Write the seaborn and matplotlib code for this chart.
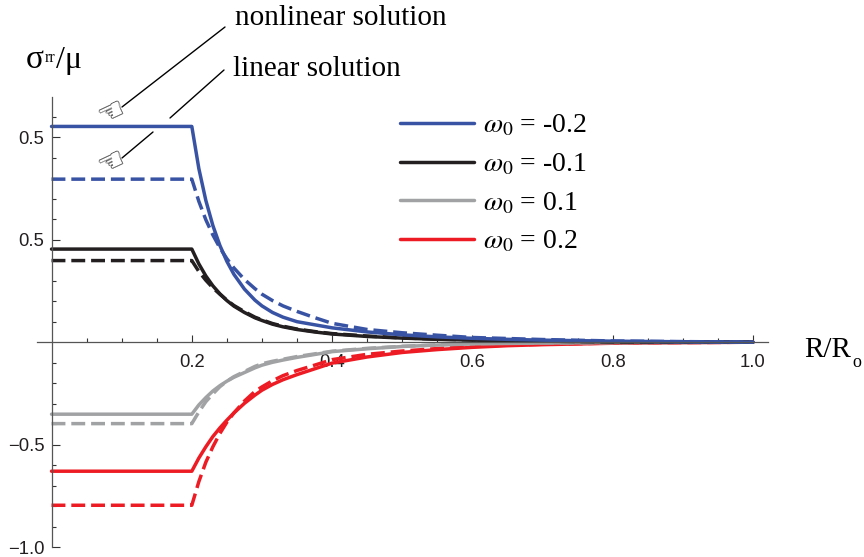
import pandas as pd
import matplotlib
matplotlib.use("Agg")
import matplotlib.pyplot as plt
from matplotlib.lines import Line2D
from matplotlib.ticker import FixedLocator, FixedFormatter
import seaborn as sns

W, H = 864, 557

# values
r = [0, 0.2, 0.21, 0.22, 0.23, 0.24, 0.25, 0.26, 0.275, 0.29, 0.3, 0.315, 0.33, 0.35, 0.375, 0.4,
     0.45, 0.5, 0.55, 0.6, 0.65, 0.7, 0.8, 0.9, 1.0]

blue_nl = [1.052, 1.052, 0.847, 0.691, 0.569, 0.472, 0.394, 0.331, 0.259, 0.205, 0.177, 0.145, 0.122, 0.10, 0.085, 0.07,
           0.05, 0.036, 0.026, 0.019, 0.014, 0.01, 0.005, 0.002, 0.0]
blue_lin = [0.795, 0.795, 0.687, 0.597, 0.523, 0.46, 0.407, 0.362, 0.306, 0.261, 0.234, 0.203, 0.177, 0.15, 0.12, 0.092,
            0.062, 0.046, 0.034, 0.023, 0.018, 0.013, 0.006, 0.003, 0.0]
black_nl = [0.454, 0.454, 0.382, 0.323, 0.275, 0.236, 0.203, 0.176, 0.145, 0.119, 0.106, 0.088, 0.075, 0.062, 0.05, 0.04,
            0.028, 0.02, 0.014, 0.01, 0.007, 0.005, 0.002, 0.001, 0.0]
black_lin = [0.398, 0.398, 0.345, 0.302, 0.265, 0.234, 0.205, 0.179, 0.149, 0.122, 0.109, 0.091, 0.078, 0.064, 0.052, 0.042,
             0.03, 0.021, 0.015, 0.011, 0.008, 0.005, 0.002, 0.001, 0.0]
grey_nl = [-0.351, -0.351, -0.306, -0.27, -0.238, -0.212, -0.19, -0.171, -0.148, -0.125, -0.112, -0.098, -0.087, -0.074, -0.06, -0.046,
           -0.032, -0.021, -0.014, -0.008, -0.006, -0.004, -0.002, -0.001, 0.0]
grey_lin = [-0.397, -0.397, -0.34, -0.29, -0.252, -0.217, -0.19, -0.168, -0.143, -0.118, -0.105, -0.093, -0.083, -0.07, -0.057, -0.044,
            -0.03, -0.02, -0.013, -0.007, -0.005, -0.003, -0.002, -0.001, 0.0]
red_nl = [-0.629, -0.629, -0.565, -0.51, -0.46, -0.418, -0.38, -0.345, -0.298, -0.258, -0.234, -0.206, -0.183, -0.158, -0.13, -0.102,
          -0.072, -0.05, -0.036, -0.025, -0.017, -0.012, -0.005, -0.002, 0.0]
red_lin = [-0.795, -0.795, -0.68, -0.585, -0.51, -0.445, -0.39, -0.345, -0.287, -0.24, -0.218, -0.188, -0.163, -0.138, -0.112, -0.085,
           -0.059, -0.043, -0.031, -0.021, -0.014, -0.01, -0.004, -0.002, 0.0]

omegas = ["-0.2", "-0.1", "0.1", "0.2"]
colors = ["#3953a4", "#231f20", "#a0a2a4", "#ed1c24"]
series = {"-0.2": (blue_nl, blue_lin), "-0.1": (black_nl, black_lin),
          "0.1": (grey_nl, grey_lin), "0.2": (red_nl, red_lin)}

y_major = [-1.0, -0.5, 0.5, 1.0]
y_labels = ["\u22121.0", "\u22120.5", "0.5", "0.5"]
y_minor = [-0.9, -0.8, -0.7, -0.6, -0.4, -0.3, -0.2, -0.1, 0.1, 0.2, 0.3, 0.4, 0.6, 0.7, 0.8, 0.9, 1.1]
x_major = [0.2, 0.4, 0.6, 0.8, 1.0]
x_labels = ["0.2", "0.4", "0.6", "0.8", "1.0"]
x_minor = [0.05, 0.1, 0.15, 0.25, 0.3, 0.35, 0.45, 0.5, 0.55, 0.65, 0.7, 0.75, 0.85, 0.9, 0.95]

rows = []
for om in omegas:
    nl, lin = series[om]
    rows += [{"r": a, "s": b, "omega": om, "kind": "nonlinear"} for a, b in zip(r, nl)]
    rows += [{"r": a, "s": b, "omega": om, "kind": "linear"} for a, b in zip(r, lin)]
df = pd.DataFrame(rows)

sns.set_style("white")
plt.rcParams["font.family"] = ["Liberation Serif", "DejaVu Sans"]
plt.rcParams["mathtext.fontset"] = "stix"
plt.rcParams["text.color"] = "black"

fig = plt.figure(figsize=(W / 100, H / 100), dpi=100)
ax = fig.add_axes([37 / W, 1 - 547.3 / H, (768 - 37) / W, (547.3 - 96.7) / H])

palette = dict(zip(omegas, colors))
sns.lineplot(data=df, x="r", y="s", hue="omega", style="kind", hue_order=omegas[::-1],
             palette=palette, dashes={"nonlinear": "", "linear": (4, 1.7)},
             estimator=None, sort=False, linewidth=2.5, legend=False, ax=ax)

ax.set_xlim(-0.0207, 1.0214)
ax.set_ylim(-1.0, 1.197)
ax.set_xlabel("")
ax.set_ylabel("")
ax.patch.set_visible(False)

for side in ["top", "right"]:
    ax.spines[side].set_visible(False)
ax.spines["left"].set_position(("data", 0))
ax.spines["bottom"].set_position(("data", 0))
for side in ["left", "bottom"]:
    ax.spines[side].set_linewidth(0.9)
    ax.spines[side].set_color("#555555")

ax.xaxis.set_major_locator(FixedLocator(x_major))
ax.xaxis.set_major_formatter(FixedFormatter(x_labels))
ax.xaxis.set_minor_locator(FixedLocator(x_minor))
ax.yaxis.set_major_locator(FixedLocator(y_major))
ax.yaxis.set_major_formatter(FixedFormatter(y_labels))
ax.yaxis.set_minor_locator(FixedLocator(y_minor))

tick_font = ["Liberation Sans"]
ax.tick_params(axis="x", which="major", direction="in", length=5, width=0.8, color="#333333",
               pad=8.5, labelsize=13.3, labelcolor="#231f20", bottom=True)
ax.tick_params(axis="x", which="minor", direction="in", length=3, width=0.8, color="#333333", bottom=True)
ax.tick_params(axis="y", which="major", direction="in", length=6, width=0.8, color="#333333",
               pad=5, labelsize=13.3, labelcolor="#231f20", left=True)
ax.tick_params(axis="y", which="minor", direction="in", length=3, width=0.8, color="#333333", left=True)
for lab in ax.get_xticklabels() + ax.get_yticklabels():
    lab.set_family(tick_font)


def fx(x):
    return x / W


def fy(y):
    return 1 - y / H


# texts placed in reference pixels
fig.text(fx(235), fy(25), "nonlinear solution", fontsize=21, va="baseline")
fig.text(fx(233), fy(76), "linear solution", fontsize=21, va="baseline")
fig.text(fx(26), fy(68), "\u03c3", fontsize=24, va="baseline")
fig.text(fx(45), fy(62), "rr", fontsize=11.5, va="baseline")
fig.text(fx(56), fy(68), "/\u03bc", fontsize=23, va="baseline")
fig.text(fx(804), fy(357), "R/R", fontsize=21, va="baseline")
fig.text(fx(852), fy(367), "o", fontsize=13, va="baseline")

# pointer lines and hands
pointers = [((225, 27), (122, 107)), ((224, 70), (170, 118)), ((153, 132), (122, 158))]
for (x0, y0), (x1, y1) in pointers:
    fig.add_artist(Line2D([fx(x0), fx(x1)], [fy(y0), fy(y1)], color="black", lw=1.0,
                          transform=fig.transFigure))
for yc in [112, 162]:
    fig.text(fx(112), fy(yc), "\u261c", family="DejaVu Sans", fontsize=22, rotation=25,
             ha="center", va="center", color="#222222")

handles = [Line2D([], [], color=c, lw=2.5) for c in colors]
labels = ["$\\omega_0$ = " + om for om in omegas]
fig.legend(handles, labels, loc="upper left", bbox_to_anchor=(fx(400), fy(113)), bbox_transform=fig.transFigure,
           frameon=False, prop={"family": "Liberation Serif", "size": 20}, borderaxespad=0, borderpad=0,
           handlelength=2.66, handletextpad=0.33, labelspacing=0.47)

fig.savefig("out.png", dpi=100)
